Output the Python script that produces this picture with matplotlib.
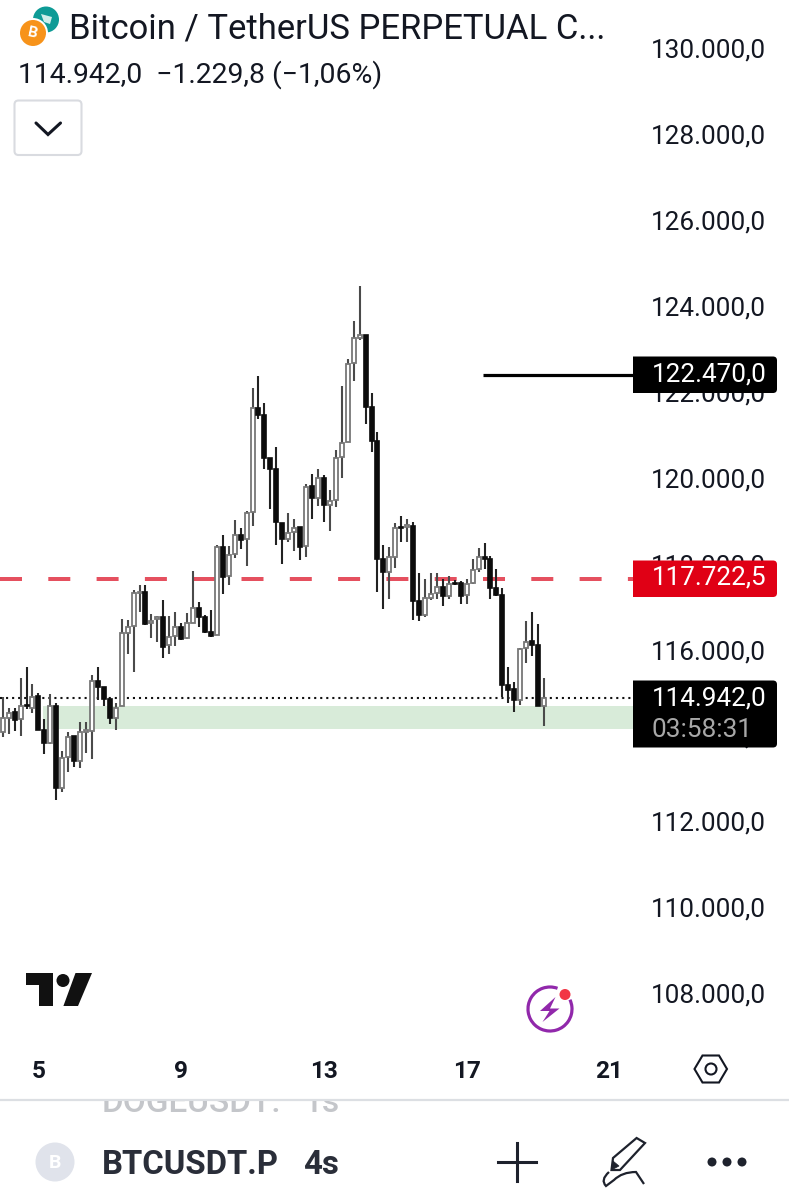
import matplotlib
matplotlib.use("Agg")
import matplotlib.pyplot as plt
import matplotlib.transforms as mtransforms
from matplotlib.patches import Circle, FancyBboxPatch, Polygon, Rectangle, Arc, PathPatch
from matplotlib.path import Path
import numpy as np

plt.rcParams['font.family'] = ['Roboto', 'DejaVu Sans']

# ---- data (4h candles) ----
first_day = 4.0
bars_per_day = 6
opens = [114150,114490,114610,114450,114780,114710,115000,114200,113910,114770,112850,113570,114070,113490,114160,114190,115350,115200,114930,114490,114760,116470,116630,117390,117420,116690,116780,116830,116170,116380,116610,116340,116700,117050,116840,116490,116420,118460,117790,118300,118740,118640,119270,121690,121540,120540,120270,119030,118640,118820,118920,118490,119880,119610,120080,119440,119560,120570,120900,122740,123320,123400,121730,120940,118180,117890,118240,118920,118920,118950,117210,116880,117280,117390,117540,117320,117630,117620,117350,117630,117940,118240,118180,117510,117340,115240,115150,114900,116100,116270,116170,114750]
closes = [114490,114590,114440,114750,114750,114980,114200,113910,114770,112850,113540,114050,113470,114160,114200,115340,115200,114930,114490,114720,116450,116610,117390,117420,116670,116750,116830,116140,116360,116590,116310,116690,117050,116830,116490,116390,118470,117770,118280,118740,118630,119250,121690,121540,120540,120270,119040,118640,118800,118910,118470,119870,119600,120080,119440,119540,120530,120890,122720,123320,123400,121730,120940,118180,117890,118220,118900,118900,118970,117210,116880,117270,117370,117530,117320,117600,117600,117320,117600,117930,118240,118190,117520,117340,115240,115130,114890,116080,116260,116170,114750,114942]
highs = [114960,114710,114710,115420,115680,115270,115060,114450,115040,114820,113720,114160,114070,114380,114380,115480,115660,115200,114930,114820,116780,116760,117460,117580,117580,116900,116860,117230,116860,116940,116690,116920,117900,117190,116880,117000,118510,118740,118490,119090,118910,119290,122160,122450,121820,120540,120800,119030,119250,119110,118920,119930,120160,120270,120140,119790,120710,122210,122830,123730,124540,123400,122060,121150,118500,118470,119030,119190,119110,119050,117850,117710,117850,117850,117710,117790,117700,117670,117720,118180,118430,118550,118250,117940,117500,115680,115330,116100,116750,116940,116670,115420]
lows = [114050,114100,114180,114070,114690,114590,114200,113640,113880,112570,112770,113230,113350,113310,113660,113530,114890,114750,114340,114200,114750,115970,115560,116940,116650,116350,116260,115870,115970,116160,116300,116320,116690,116610,116450,116360,116420,117360,117580,118200,118410,118020,118950,121440,120280,119350,118510,118060,118570,118380,118160,118240,119120,119420,119040,118840,119400,120080,120900,122330,123280,121330,120670,117420,117020,117250,117980,118590,118570,116760,116740,116830,117230,117250,117100,117250,117570,117140,117140,117600,117870,117940,117250,117320,114960,114840,114610,114790,115760,115930,114750,114300]

y_ticks = [108000,110000,112000,114000,116000,118000,120000,122000,124000,126000,128000,130000]
x_ticks = [5, 9, 13, 17, 21]
resistance_level = 122470.0
dashed_level = 117722.5
last_price = 114942.0
zone_low, zone_high = 114226, 114770
zone_start_day = 4.0 + 40.3 / 35.69
resistance_start_day = 4.0 + 480.3 / 35.69

header_title = "Bitcoin / TetherUS PERPETUAL C..."
header_values = "114.942,0  \u22121.229,8 (\u22121,06%)"
countdown = "03:58:31"

def eu(v):
    return f"{v:,.1f}".replace(",", "X").replace(".", ",").replace("X", ".")

W, H = 789, 1200
fig = plt.figure(figsize=(W/100, H/100), dpi=100, facecolor='white')

# ---- price chart ----
AX_R, AX_B = 633, 1045
ax = fig.add_axes([0, (H-AX_B)/H, AX_R/W, AX_B/H], facecolor='white')
ax.set_xlim(3.924, 21.66)
ax.set_ylim(106868, 131199)
for s in ax.spines.values():
    s.set_visible(False)

days = first_day + np.arange(len(opens)) / bars_per_day
opens_a, closes_a, highs_a, lows_a = map(np.array, (opens, closes, highs, lows))
up = closes_a >= opens_a

ax.axhspan(zone_low, zone_high, xmin=(zone_start_day-3.924)/(21.66-3.924), xmax=1,
           facecolor='#d8ebd9', edgecolor='none', zorder=1)
ax.axhline(last_price, color='#111111', lw=1.5, linestyle=(0, (1, 1.9)), zorder=2)
ax.axhline(dashed_level, color='#e5505f', lw=2.88, linestyle=(0, (5.5, 6.575)),
           dash_capstyle='butt', zorder=2)
ax.hlines(resistance_level, resistance_start_day, 21.66, color='black', lw=2.3, zorder=2)

ax.vlines(days[up], lows_a[up], highs_a[up], color='#4a4a4a', lw=1.5, zorder=3)
ax.vlines(days[~up], lows_a[~up], highs_a[~up], color='#222222', lw=1.5, zorder=3)
bw = 4.0 / 35.69
ax.bar(days[up], (closes_a-opens_a)[up], bottom=opens_a[up], width=bw,
       facecolor='white', edgecolor='#777777', linewidth=1.3, zorder=4)
ax.bar(days[~up], (opens_a-closes_a)[~up], bottom=closes_a[~up], width=bw,
       facecolor='#0c0c0c', edgecolor='#0c0c0c', linewidth=1.2, zorder=4)

ax.yaxis.tick_right()
ax.set_yticks(y_ticks)
ax.set_yticklabels([eu(v) for v in y_ticks], fontsize=18.85, color='#131722')
ax.tick_params(axis='y', length=0, pad=13.2)
off = mtransforms.ScaledTranslation(0, -6.3/100, fig.dpi_scale_trans)
for lb in ax.get_yticklabels():
    lb.set_va('baseline')
    lb.set_transform(lb.get_transform() + off)

ax.set_xticks(x_ticks)
ax.set_xticklabels([str(v) for v in x_ticks], fontsize=17.6, fontweight='bold', color='#131722')
ax.tick_params(axis='x', length=0, pad=10.5)

# ---- interface layer (pixel coordinates) ----
ui = fig.add_axes([0, 0, 1, 1], facecolor='none', zorder=5)
ui.set_xlim(0, W)
ui.set_ylim(H, 0)
ui.axis('off')

def price_box(y0, y1, color):
    p = FancyBboxPatch((620, y0), 157, y1-y0, boxstyle='round,pad=0,rounding_size=4',
                       facecolor=color, edgecolor='none')
    ui.add_patch(p)
    p.set_clip_path(Rectangle((633, 0), 156, H, transform=ui.transData))

price_box(356.5, 393, 'black')
price_box(560.5, 597, '#e00015')
price_box(680.5, 747.5, 'black')
ui.text(651.5, 381.7, eu(resistance_level), color='white', fontsize=18.85)
ui.text(651.5, 585, eu(dashed_level), color='white', fontsize=18.85)
ui.text(651.5, 705.6, eu(last_price), color='white', fontsize=18.85)
ui.text(651.5, 736.7, countdown, color='#a8a8a8', fontsize=18.85)

# header
ui.text(69, 38.5, header_title, fontsize=24.9, color='#131722')
ui.text(18.5, 83, header_values, fontsize=20.45, color='#131722')
ui.add_patch(Circle((46, 19.5), 13, facecolor='#0e9b96', edgecolor='none'))
ui.add_patch(Circle((33, 33), 15, facecolor='white', edgecolor='none'))
ui.add_patch(Circle((33, 33), 13, facecolor='#f7931a', edgecolor='none'))
ui.text(33, 33.5, "B", color='white', fontsize=11, fontweight='bold', ha='center', va='center', rotation=-12)
ui.add_patch(Polygon([(41, 14), (52, 17), (50, 24), (44, 22)], closed=True, facecolor='#cfeeea', edgecolor='none'))
ui.add_patch(FancyBboxPatch((14.5, 100.5), 67, 54.5, boxstyle='round,pad=0,rounding_size=4',
                            facecolor='white', edgecolor='#d9dbe0', linewidth=1.5))
ui.plot([36, 48, 60.5], [123, 134.5, 123], color='#131722', lw=2.2, solid_capstyle='round', solid_joinstyle='miter')

# TradingView logo
logo = '#111111'
ui.add_patch(Polygon([(26, 973), (53, 973), (53, 1006), (39, 1006), (39, 985), (26, 985)], closed=True, facecolor=logo, edgecolor='none'))
ui.add_patch(Circle((63, 980.5), 6.5, facecolor=logo, edgecolor='none'))
ui.add_patch(Polygon([(75.5, 973), (92, 973), (78, 1006), (63.4, 1006)], closed=True, facecolor=logo, edgecolor='none'))

# bolt badge
ui.add_patch(Arc((550, 1009), 44, 44, theta1=-25, theta2=290, color='#9128ab', lw=2.3))
ui.add_patch(Polygon([(555.5, 997), (540, 1011), (549.5, 1011), (542.5, 1022), (559.5, 1008.5), (550, 1008.5)], closed=True, facecolor='#9128ab', edgecolor='none'))
ui.add_patch(Circle((565, 994.5), 5.5, facecolor='#f23645', edgecolor='none'))

# settings hexagon
ui.add_patch(Polygon([(694.5, 1069), (702.5, 1055.5), (719, 1055.5), (727, 1069), (719, 1082.5), (702.5, 1082.5)],
                     closed=True, facecolor='white', edgecolor='#131722', linewidth=1.5))
ui.add_patch(Circle((711, 1069), 5.5, facecolor='white', edgecolor='#131722', linewidth=1.5))

# bottom toolbar
ui.plot([0, W], [1099.5, 1099.5], color='#dcdfe3', lw=1.6)
doge = ui.text(102, 1112, "DOGEUSDT:", fontsize=24, color='#c4c6ca', fontweight='medium')
doge1 = ui.text(303, 1112, "1s", fontsize=24, color='#c4c6ca', fontweight='medium')
for t in (doge, doge1):
    t.set_clip_path(Rectangle((0, 1101), W, 30, transform=ui.transData))
    t.set_clip_on(True)
ui.add_patch(Circle((55, 1162), 19.5, facecolor='#e0e3eb', edgecolor='none'))
ui.text(55, 1162.5, "B", color='white', fontsize=14, fontweight='bold', ha='center', va='center')
ui.text(101.5, 1174, "BTCUSDT.P", fontsize=23.7, color='#2a2e39', fontweight='semibold')
ui.text(303, 1174, "4s", fontsize=23.7, color='#2a2e39', fontweight='semibold')
ui.plot([498, 536], [1162, 1162], color='#1e222d', lw=2.2)
ui.plot([517.5, 517.5], [1143, 1181], color='#1e222d', lw=2.2)
ui.add_patch(Polygon([(611.5, 1170), (613, 1158), (636.6, 1138), (645, 1143), (620, 1170)], closed=True,
                     facecolor='white', edgecolor='#1e222d', linewidth=1.6))
ui.add_patch(Polygon([(611.5, 1170), (613, 1161), (619, 1166)], closed=True, facecolor='#1e222d', edgecolor='#1e222d', linewidth=0.5))
sq = Path([(609, 1172), (600, 1180), (606, 1186), (614, 1180), (622, 1172), (636, 1172), (644, 1184)],
          [Path.MOVETO, Path.CURVE3, Path.CURVE3, Path.LINETO, Path.CURVE3, Path.CURVE3, Path.LINETO])
ui.add_patch(PathPatch(sq, facecolor='none', edgecolor='#1e222d', linewidth=1.6))
for cx in (712, 727, 742):
    ui.add_patch(Circle((cx, 1162), 4.5, facecolor='#1e222d', edgecolor='none'))

fig.savefig('out.png', dpi=100, facecolor='white')
